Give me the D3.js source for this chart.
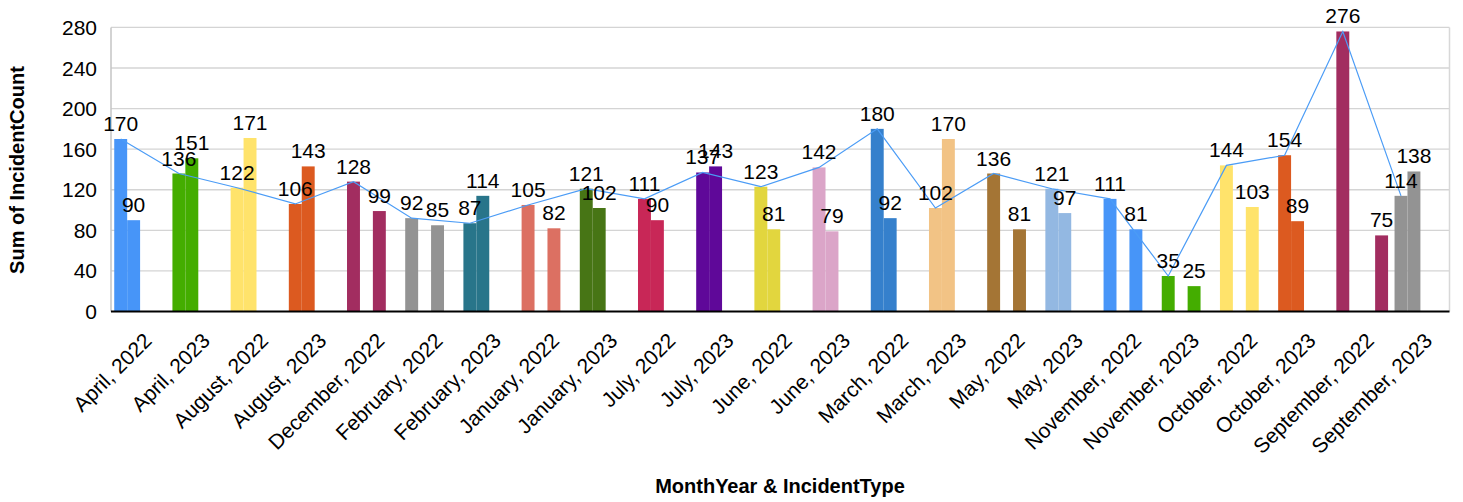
<!DOCTYPE html>
<html lang="en">
<head>
<meta charset="utf-8">
<title>Incident count by month</title>
<script src="https://cdn.jsdelivr.net/npm/d3@7"></script>
<style>
  body { margin: 0; background: #fff; }
  text { font-family: "Liberation Sans", Arial, sans-serif; fill: #000; }
  .grid line { stroke: #d4d4d4; stroke-width: 1.3; }
  .tick-label { font-size: 21px; }
  .xtick { font-size: 21px; }
  .bar-label { font-size: 21px; }
  .axis-title { font-size: 20px; font-weight: bold; }
</style>
</head>
<body>
<script>
// categories on the x axis
var categories = ['April, 2022', 'April, 2023', 'August, 2022', 'August, 2023', 'December, 2022',
  'February, 2022', 'February, 2023', 'January, 2022', 'January, 2023', 'July, 2022', 'July, 2023',
  'June, 2022', 'June, 2023', 'March, 2022', 'March, 2023', 'May, 2022', 'May, 2023',
  'November, 2022', 'November, 2023', 'October, 2022', 'October, 2023', 'September, 2022', 'September, 2023'];

// first incident type (also drawn as the line)
var firstTypeCounts = [170, 136, 122, 106, 128, 92, 87, 105, 121, 111, 137, 123, 142, 180, 102, 136, 121, 111, 35, 144, 154, 276, 114];
// second bar in each group: count and which incident type it belongs to (1..3)
var secondTypeCounts = [90, 151, 171, 143, 99, 85, 114, 82, 102, 90, 143, 81, 79, 92, 170, 81, 97, 81, 25, 103, 89, 75, 138];
var secondTypeIndex = [1, 1, 1, 1, 2, 2, 1, 2, 1, 1, 1, 1, 1, 1, 1, 2, 1, 2, 2, 2, 1, 3, 1];

var incidentTypes = [0, 1, 2, 3];
var yTicks = [0, 40, 80, 120, 160, 200, 240, 280];

var palette = ['#4795f8', '#44ad00', '#ffe36b', '#dc5a20', '#a22d60', '#939393', '#28758a', '#dc7062',
  '#477515', '#c82757', '#5f0899', '#e2d63e', '#dba5c8', '#3580cc', '#f2c385', '#a47535', '#93b8e2'];

var width = 1463, height = 502;
var plotLeft = 111, plotRight = 1449.5, plotTop = 27.4, plotBottom = 311.5;

var svg = d3.select('body').append('svg')
  .attr('width', width)
  .attr('height', height);

var x = d3.scaleBand().domain(categories).range([plotLeft, plotRight]).padding(0);
var xType = d3.scaleBand().domain(incidentTypes).range([0, x.bandwidth()]).paddingInner(0).paddingOuter(0.25);
var y = d3.scaleLinear().domain([0, 280]).range([plotBottom, plotTop]);
var color = d3.scaleOrdinal().domain(categories).range(palette);

// gridlines
svg.append('g').attr('class', 'grid')
  .selectAll('line')
  .data(yTicks.slice(1))
  .enter().append('line')
  .attr('x1', plotLeft).attr('x2', plotRight)
  .attr('y1', function(d) { return y(d); })
  .attr('y2', function(d) { return y(d); });

// frame sides
svg.append('line').attr('x1', plotLeft).attr('x2', plotLeft).attr('y1', plotTop).attr('y2', plotBottom)
  .style('stroke', '#c4c4c4').style('stroke-width', 1.5);
svg.append('line').attr('x1', plotRight).attr('x2', plotRight).attr('y1', plotTop).attr('y2', plotBottom)
  .style('stroke', '#d8d8d8').style('stroke-width', 1.5);

// y tick labels
svg.selectAll('.ytick')
  .data(yTicks)
  .enter().append('text')
  .attr('class', 'tick-label ytick')
  .attr('x', 97)
  .attr('y', function(d) { return y(d); })
  .attr('dy', '0.36em')
  .attr('text-anchor', 'end')
  .text(function(d) { return d; });

// build bar records
var bars = [];
categories.forEach(function(c, i) {
  bars.push({cat: c, type: 0, value: firstTypeCounts[i]});
  bars.push({cat: c, type: secondTypeIndex[i], value: secondTypeCounts[i]});
});

svg.selectAll('.bar')
  .data(bars)
  .enter().append('rect')
  .attr('class', 'bar')
  .attr('x', function(d) { return x(d.cat) + xType(d.type); })
  .attr('width', xType.bandwidth())
  .attr('y', function(d) { return y(d.value); })
  .attr('height', function(d) { return y(0) - y(d.value); })
  .style('fill', function(d) { return color(d.cat); });

// x axis line
svg.append('line').attr('x1', plotLeft).attr('x2', plotRight).attr('y1', plotBottom).attr('y2', plotBottom)
  .style('stroke', '#000').style('stroke-width', 2);

// line through the first incident type
var line = d3.line()
  .x(function(d, i) { return x(categories[i]) + xType(0) + xType.bandwidth() / 2; })
  .y(function(d) { return y(d); });

svg.append('path')
  .datum(firstTypeCounts)
  .attr('d', line)
  .style('fill', 'none')
  .style('stroke', '#4b9cf6')
  .style('stroke-width', 1.2);

// value labels
svg.selectAll('.bar-label')
  .data(bars)
  .enter().append('text')
  .attr('class', 'bar-label')
  .attr('x', function(d) { return x(d.cat) + xType(d.type) + xType.bandwidth() / 2; })
  .attr('y', function(d) { return y(d.value) - 8; })
  .attr('text-anchor', 'middle')
  .text(function(d) { return d.value; });

// x tick labels
svg.selectAll('.xtick')
  .data(categories)
  .enter().append('text')
  .attr('class', 'tick-label xtick')
  .attr('text-anchor', 'end')
  .attr('transform', function(d) {
    return 'translate(' + (x(d) + x.bandwidth() / 2 + 13) + ',' + 342 + ') rotate(-45)';
  })
  .text(function(d) { return d; });

// axis titles
svg.append('text')
  .attr('class', 'axis-title')
  .attr('text-anchor', 'middle')
  .attr('transform', 'translate(24,170) rotate(-90)')
  .text('Sum of IncidentCount');

svg.append('text')
  .attr('class', 'axis-title')
  .attr('text-anchor', 'middle')
  .attr('x', 780)
  .attr('y', 493)
  .text('MonthYear & IncidentType');
</script>
</body>
</html>
